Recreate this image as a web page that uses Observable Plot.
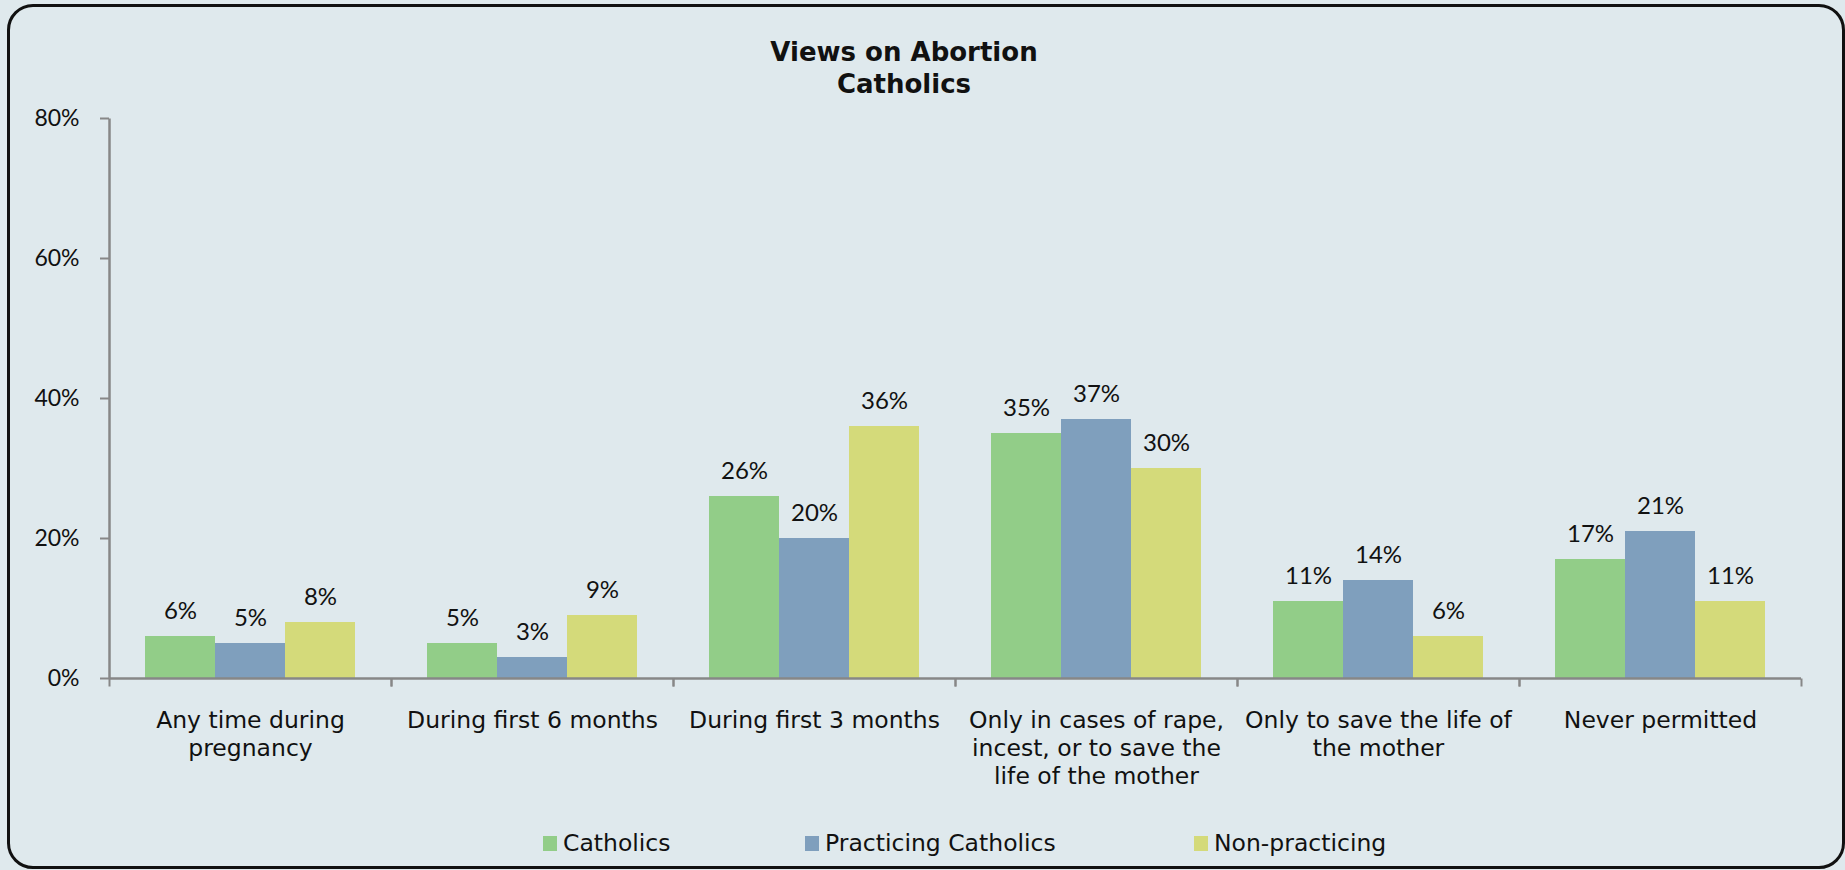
<!DOCTYPE html>
<html>
<head>
<meta charset="utf-8">
<script src="https://cdn.jsdelivr.net/npm/d3@7"></script>
<script src="https://cdn.jsdelivr.net/npm/@observablehq/plot@0.6"></script>
<style>
html, body { margin: 0; padding: 0; background: #dfe9ed; width: 1845px; height: 870px; overflow: hidden; }
#frame { position: absolute; left: 7px; top: 4px; width: 1838px; height: 865px; box-sizing: border-box; border: 3px solid #111; border-radius: 26px; }
#title { position: absolute; left: 0; width: 1808px; top: 36px; text-align: center; font-family: "DejaVu Sans"; font-weight: bold; font-size: 26px; line-height: 32px; color: #111; }
#chart { position: absolute; left: 0; top: 100px; }
#chart svg { overflow: visible; }
.leg { position: absolute; top: 829px; font-family: "DejaVu Sans"; font-size: 23.5px; line-height: 28px; color: #111; display: flex; align-items: center; white-space: nowrap; }
.sw { width: 14px; height: 15px; margin-right: 6px; }
</style>
</head>
<body>
<div id="frame"></div>
<div id="title">Views on Abortion<br>Catholics</div>
<div id="chart"></div>
<div id="legend"></div>
<script>
const categories = [
  "Any time during pregnancy",
  "During first 6 months",
  "During first 3 months",
  "Only in cases of rape, incest, or to save the life of the mother",
  "Only to save the life of the mother",
  "Never permitted"
];
const categoryLabels = [
  "Any time during\npregnancy",
  "During first 6 months",
  "During first 3 months",
  "Only in cases of rape,\nincest, or to save the\nlife of the mother",
  "Only to save the life of\nthe mother",
  "Never permitted"
];
const series = ["Catholics", "Practicing Catholics", "Non-practicing"];
const catholics = [6, 5, 26, 35, 11, 17];
const practicing = [5, 3, 20, 37, 14, 21];
const nonPracticing = [8, 9, 36, 30, 6, 11];
const colors = ["#92cd88", "#7f9fbd", "#d4da7a"];
const yTicks = [0, 20, 40, 60, 80];

const seriesValues = [catholics, practicing, nonPracticing];
const rows = [];
categories.forEach((c, i) => {
  series.forEach((s, j) => rows.push({category: c, series: s, value: seriesValues[j][i]}));
});

const W = 1845, H = 700, MT = 18, MB = 122, ML = 107, MR = 42;
const axisColor = "#878787";

const chart = Plot.plot({
  width: W, height: H,
  marginTop: MT, marginBottom: MB, marginLeft: ML, marginRight: MR,
  style: {background: "transparent", fontFamily: "DejaVu Sans", color: "#111"},
  fx: {domain: categories, padding: 0},
  x: {domain: series, paddingInner: 0, paddingOuter: 0.5, axis: null},
  y: {domain: [0, 80], axis: null},
  color: {domain: series, range: colors},
  marks: [
    Plot.barY(rows, {fx: "category", x: "series", y: "value", fill: "series"}),
    Plot.ruleY([0], {stroke: axisColor, strokeWidth: 2.5}),
    Plot.vector([0], {frameAnchor: "bottom-left", length: 8, rotate: 180, r: 0, anchor: "start", stroke: axisColor, strokeWidth: 2, strokeLinecap: "butt"}),
    Plot.vector([0], {frameAnchor: "bottom-right", length: 8, rotate: 180, r: 0, anchor: "start", stroke: axisColor, strokeWidth: 2, strokeLinecap: "butt"}),
    Plot.vector([{category: categories[0]}], {fx: "category", frameAnchor: "bottom-left", length: H - MT - MB, rotate: 0, r: 0, anchor: "start", stroke: axisColor, strokeWidth: 2.5, strokeLinecap: "butt"}),
    Plot.axisY({ticks: yTicks, tickFormat: d => d + "%", tickSize: 9, tickPadding: 21, stroke: axisColor, strokeWidth: 2, fill: "#111", fontFamily: "Lato", fontSize: 23, label: null}),
    Plot.axisFx({anchor: "bottom", tickSize: 0, tickPadding: 30, tickFormat: d => categoryLabels[categories.indexOf(d)], fontSize: 23.5, lineHeight: 1.19, fill: "#111", label: null}),
    Plot.text(rows, {fx: "category", x: "series", y: "value", text: d => d.value + "%", lineAnchor: "bottom", dy: -18, fontFamily: "Lato", fontSize: 24, fill: "#111"})
  ]
});
document.getElementById("chart").appendChild(chart);

const legendLefts = [543, 805, 1194];
const legend = document.getElementById("legend");
series.forEach((s, i) => {
  const item = document.createElement("div");
  item.className = "leg";
  item.style.left = legendLefts[i] + "px";
  const sw = document.createElement("span");
  sw.className = "sw";
  sw.style.background = colors[i];
  const t = document.createElement("span");
  t.textContent = s;
  item.appendChild(sw);
  item.appendChild(t);
  legend.appendChild(item);
});
</script>
</body>
</html>
